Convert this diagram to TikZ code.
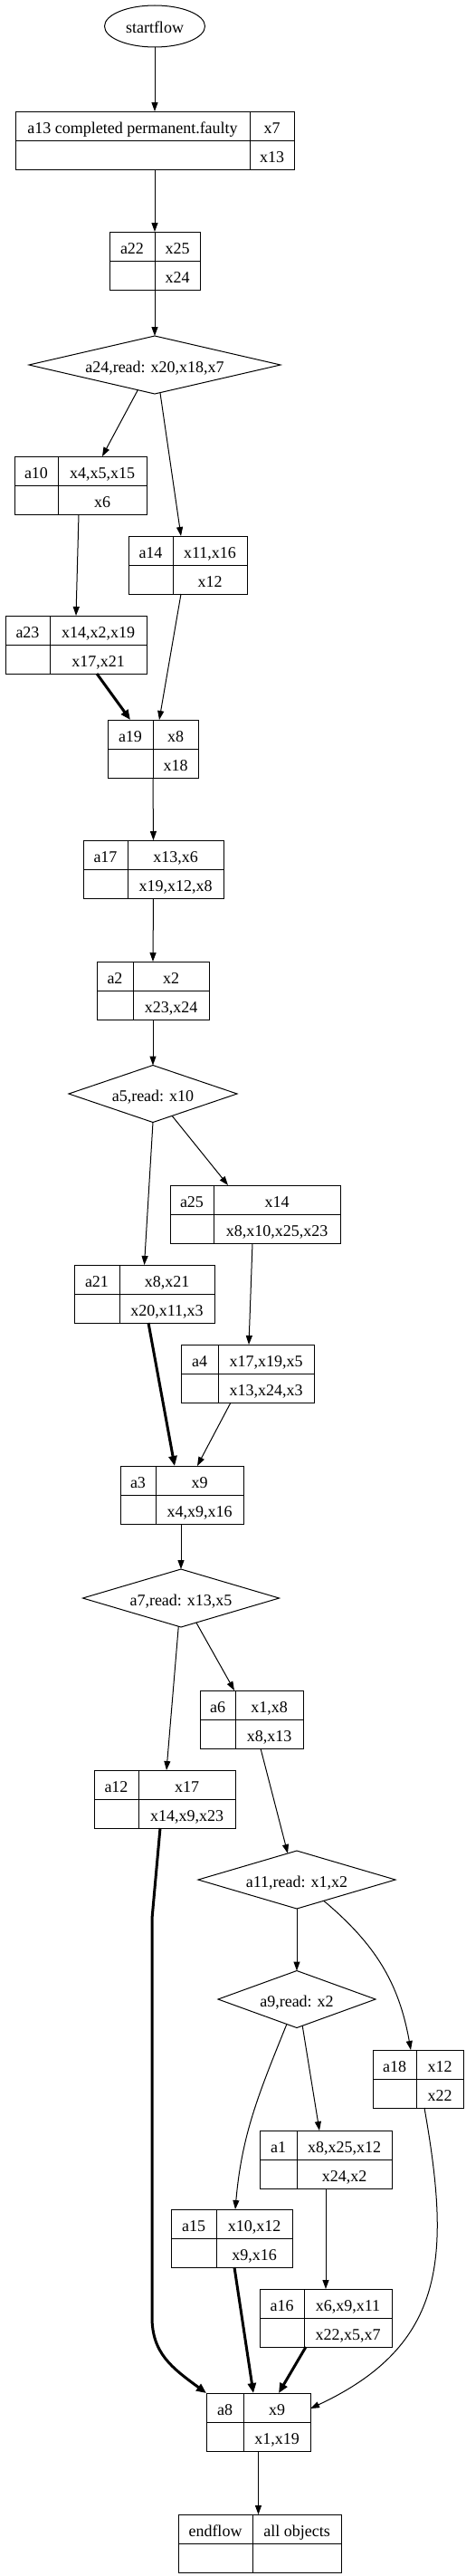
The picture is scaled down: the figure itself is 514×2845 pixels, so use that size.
\documentclass[tikz,border=0pt]{standalone}
\usepackage{fontspec}
\setmainfont{Liberation Serif}
\usetikzlibrary{arrows.meta, shapes.geometric}

% record: name, left x, divider x, right x, top y, bottom y, label, upper value, lower value
\newcommand{\recnode}[9]{%
  \node[recbox, minimum width={(#4-#2)*1pt}, minimum height={(#6-#5)*1pt}] (#1) at (#2,#5) {};
  \draw (#3,#5) -- (#3,#6) (#2,{(#5+#6)/2}) -- (#4,{(#5+#6)/2});
  \node[celltext] (#1-lbl) at ({(#2+#3)/2},{(3*#5+#6)/4}) {#7};
  \node[celltext] (#1-top) at ({(#3+#4)/2},{(3*#5+#6)/4}) {#8};
  \node[celltext] (#1-bot) at ({(#3+#4)/2},{(#5+3*#6)/4}) {#9};
}

\begin{document}
\begin{tikzpicture}[x=1pt, y=-1pt, line width=1pt, font=\fontsize{18}{22}\selectfont,
  recbox/.style={draw, rectangle, anchor=north west, inner sep=0pt, outer sep=0pt},
  celltext/.style={inner sep=0pt, text height=18pt, text depth=2pt},
  cond/.style={draw, diamond, aspect=4.3, inner sep=0pt, outer sep=0pt, text height=18pt, text depth=2pt},
  term/.style={draw, ellipse, inner sep=0pt, outer sep=0pt, minimum width=111pt, minimum height=46pt, text height=18pt, text depth=2pt},
  flow/.style={-{Triangle[length=10pt,width=7pt]}, line width=1pt},
  boldflow/.style={-{Triangle[length=11pt,width=9pt]}, line width=3pt}]
  \useasboundingbox (0,0) rectangle (514,2845);

  % upper part
  \node[term] (startflow) at (171,29) {startflow};
  \recnode{a13}{17}{276}{325}{123}{187}{a13 completed permanent.faulty}{x7}{x13}
  \recnode{a22}{121}{171}{221}{256}{320}{a22}{x25}{x24}
  \node[cond, minimum width=278pt, minimum height=64pt] (a24) at (171,403) {a24,read: x20,x18,x7};
  \recnode{a10}{16}{64}{162}{504}{568}{a10}{x4,x5,x15}{x6}
  \recnode{a14}{142}{191}{273}{592}{656}{a14}{x11,x16}{x12}
  \recnode{a23}{6}{55}{162}{680}{744}{a23}{x14,x2,x19}{x17,x21}
  \recnode{a19}{119}{169}{219}{795}{859}{a19}{x8}{x18}
  \recnode{a17}{92}{141}{247}{928}{992}{a17}{x13,x6}{x19,x12,x8}
  \recnode{a2}{107}{147}{231}{1062}{1126}{a2}{x2}{x23,x24}

  % middle part
  \node[cond, minimum width=186pt, minimum height=63pt] (a5) at (169,1208) {a5,read: x10};
  \recnode{a25}{188}{236}{376}{1309}{1373}{a25}{x14}{x8,x10,x25,x23}
  \recnode{a21}{82}{132}{237}{1397}{1461}{a21}{x8,x21}{x20,x11,x3}
  \recnode{a4}{200}{241}{347}{1485}{1549}{a4}{x17,x19,x5}{x13,x24,x3}
  \recnode{a3}{133}{172}{269}{1619}{1683}{a3}{x9}{x4,x9,x16}
  \node[cond, minimum width=217pt, minimum height=64pt] (a7) at (200,1765) {a7,read: x13,x5};
  \recnode{a6}{221}{260}{335}{1867}{1931}{a6}{x1,x8}{x8,x13}
  \recnode{a12}{104}{153}{260}{1955}{2019}{a12}{x17}{x14,x9,x23}

  % lower part
  \node[cond, minimum width=218pt, minimum height=64pt] (a11) at (328,2076) {a11,read: x1,x2};
  \node[cond, minimum width=174pt, minimum height=63pt] (a9) at (328,2208) {a9,read: x2};
  \recnode{a18}{412}{460}{512}{2264}{2328}{a18}{x12}{x22}
  \recnode{a1}{287}{328}{433}{2353}{2417}{a1}{x8,x25,x12}{x24,x2}
  \recnode{a15}{189}{239}{323}{2440}{2504}{a15}{x10,x12}{x9,x16}
  \recnode{a16}{287}{336}{433}{2528}{2592}{a16}{x6,x9,x11}{x22,x5,x7}
  \recnode{a8}{228}{269}{343}{2643}{2707}{a8}{x9}{x1,x19}
  \recnode{endflow}{197}{279}{377}{2777}{2841}{endflow}{all objects}{}

  % connectors
  \draw[flow] (startflow.south) -- (a13.north);
  \draw[flow] (a13.south) -- (a22.north);
  \draw[flow] (a22.south) -- (a24.north);
  \draw[flow] (a24.-124) -- ([xshift=24pt]a10.north);
  \draw[flow] (a24.-79) -- ([xshift=-7.5pt]a14.north);
  \draw[flow] ([xshift=-2pt]a10.south) -- (a23.north);
  \draw[flow] ([xshift=-7.5pt]a14.south) -- ([xshift=7pt]a19.north);
  \draw[boldflow] ([xshift=23pt]a23.south) -- ([xshift=-25pt]a19.north);
  \draw[flow] (a19.south) -- (a17.north);
  \draw[flow] (a17.south) -- (a2.north);
  \draw[flow] (a2.south) -- (a5.north);
  \draw[flow] (a5.south) -- (a21.north);
  \draw[flow] (a5.-49) -- ([xshift=-30pt]a25.north);
  \draw[flow] ([xshift=-3pt]a25.south) -- ([xshift=1.5pt]a4.north);
  \draw[boldflow] ([xshift=4.5pt]a21.south) -- ([xshift=-8pt]a3.north);
  \draw[flow] ([xshift=-18.5pt]a4.south) -- ([xshift=17pt]a3.north);
  \draw[flow] ([xshift=-1pt]a3.south) -- (a7.north);
  \draw[flow] (a7.-95) -- ([xshift=2pt]a12.north);
  \draw[flow] (a7.-58) -- ([xshift=-19pt]a6.north);
  \draw[flow] ([xshift=10pt]a6.south) -- (a11.109);
  \draw[boldflow] ([xshift=-5pt]a12.south) -- ++(-9,100) -- ++(0,440)
    .. controls +(0,40) and +(-38,-28) .. (a8.north west);
  \draw[flow] (a11.south) -- (a9.north);
  \draw[flow] (a11.-38) to[out=-40, in=100] ([xshift=-8pt]a18.north);
  \draw[flow] (a9.-112) to[out=-112, in=85] ([xshift=4pt]a15.north);
  \draw[flow] (a9.-78) -- ([xshift=-7pt]a1.north);
  \draw[flow] ([xshift=7pt]a18.south) to[out=-80, in=25, looseness=1.2] ([yshift=15pt]a8.east);
  \draw[flow] (a1.south) -- (a16.north);
  \draw[boldflow] ([xshift=3pt]a15.south) -- ([xshift=-5.5pt]a8.north);
  \draw[boldflow] ([xshift=-22pt]a16.south) -- ([xshift=22.5pt]a8.north);
  \draw[flow] (a8.south) -- (a8.south |- endflow.north);
\end{tikzpicture}
\end{document}
